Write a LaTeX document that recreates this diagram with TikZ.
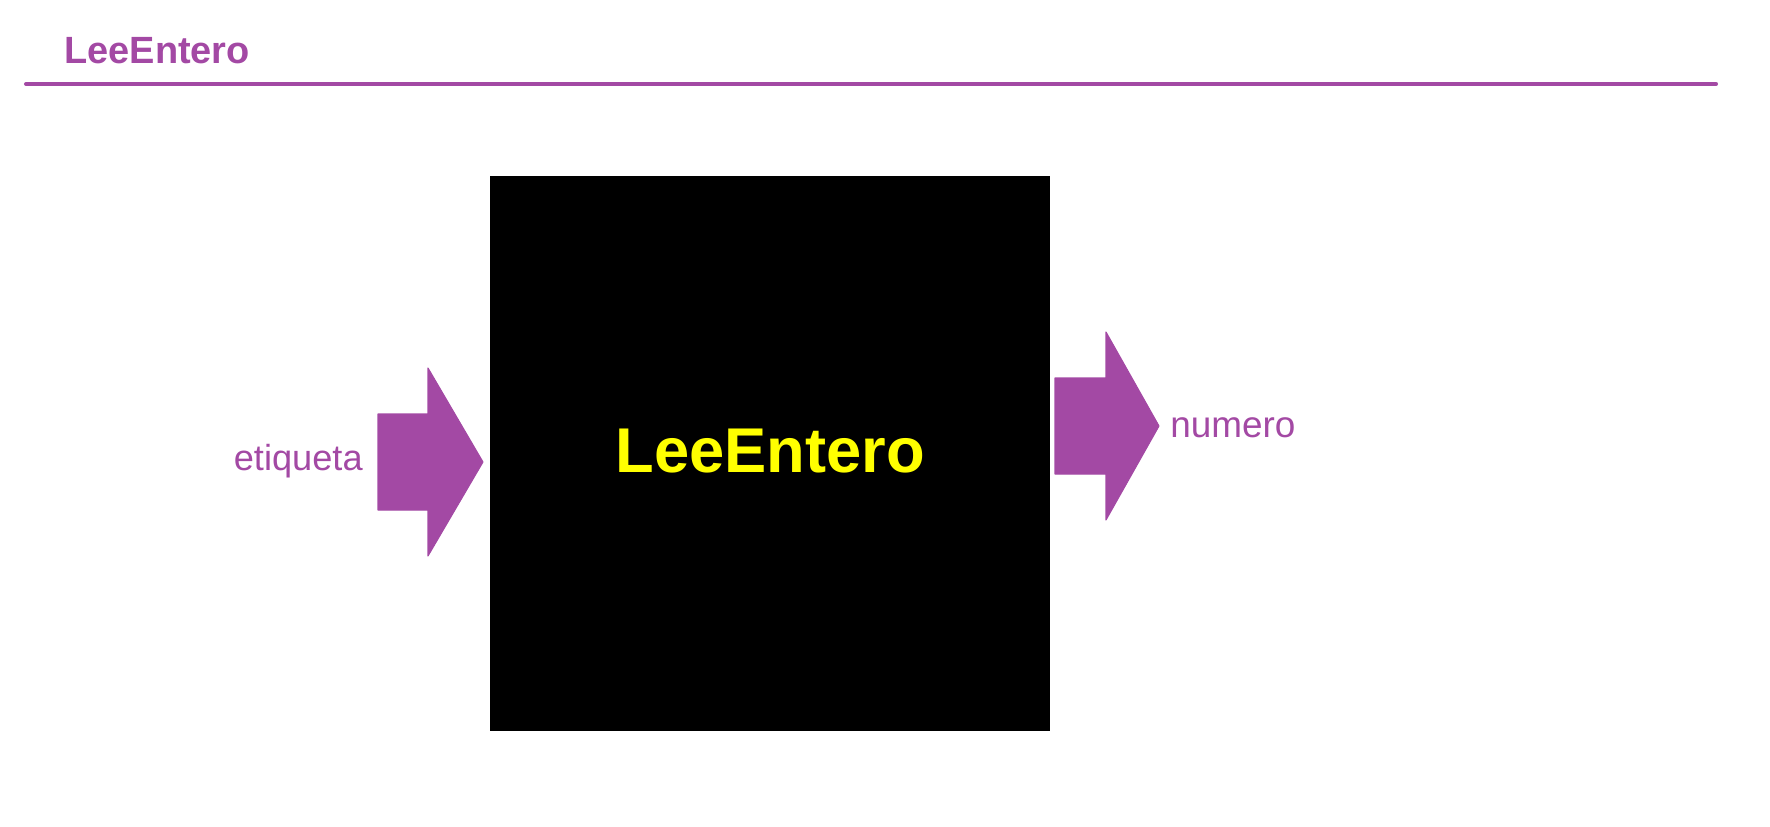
\documentclass[tikz,border=0pt]{standalone}
\usepackage{fontspec}
\setmainfont{Liberation Sans}
\usepackage{xcolor}
\definecolor{lila}{RGB}{163,73,164}
\definecolor{amarillo}{RGB}{255,255,0}

\begin{document}
\begin{tikzpicture}[x=0.02cm,y=-0.02cm]
\useasboundingbox (0,0) rectangle (1770,827);
\begin{scope}[inner sep=0pt,line join=round]
    \node[lila,anchor=base west,font=\fontsize{21.6}{24}\selectfont\bfseries] (titulo) at (64,64) {LeeEntero};
    \draw[lila,line width=2.3pt,line cap=round] (26,84) -- (1716,84);

    \fill[black] (490,176) rectangle (1050,731);
    \node[amarillo,anchor=base,font=\fontsize{36}{40}\selectfont\bfseries] (caja) at (770,472) {LeeEntero};

    \filldraw[lila,line width=0.6pt] (378,414) -- (428,414) -- (428,368) -- (483,462)
        -- (428,556) -- (428,510) -- (378,510) -- cycle;
    \node[lila,anchor=base east,font=\fontsize{20.6}{24}\selectfont] (etiqueta) at (363,470) {etiqueta};

    \filldraw[lila,line width=0.6pt] (1055,378) -- (1106,378) -- (1106,332) -- (1159,426)
        -- (1106,520) -- (1106,474) -- (1055,474) -- cycle;
    \node[lila,anchor=base west,font=\fontsize{21}{24}\selectfont] (numero) at (1170,437) {numero};
\end{scope}
\end{tikzpicture}
\end{document}
